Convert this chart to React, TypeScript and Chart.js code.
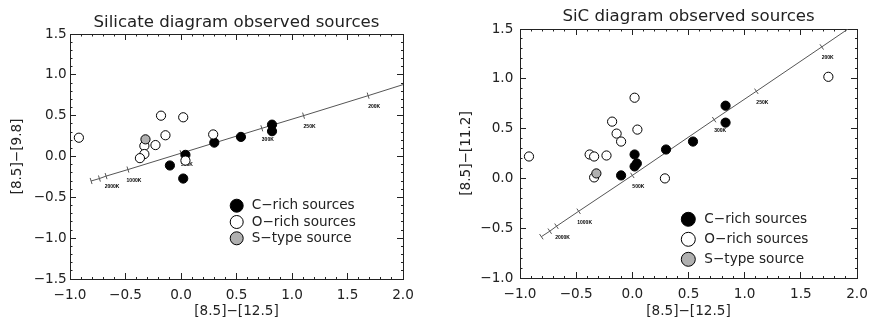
import React, { useEffect, useRef } from 'react';
import { Chart, registerables } from 'chart.js';

Chart.register(...registerables);
Chart.defaults.font.family = '"DejaVu Sans", sans-serif';
Chart.defaults.color = '#222';

// ---------- shared ----------
const xAxisTitle = '[8.5]\u2212[12.5]';
const legendLabels = ['C\u2212rich sources', 'O\u2212rich sources', 'S\u2212type source'];
const legendFills = ['#000000', '#ffffff', '#b0b0b0'];
const tempLabels = ['', '', '2000K', '1000K', '500K', '300K', '250K', '200K', ''];
const xMin = -1.0;
const xMax = 2.0;

// ---------- Silicate panel ----------
const silTitle = 'Silicate diagram observed sources';
const silYTitle = '[8.5]\u2212[9.8]';
const silYMin = -1.5;
const silYMax = 1.5;
const silCRichX = [0.04, -0.10, 0.02, 0.30, 0.54, 0.82, 0.82];
const silCRichY = [0.02, -0.11, -0.27, 0.17, 0.24, 0.39, 0.31];
const silORichX = [-0.92, -0.18, 0.02, -0.14, -0.23, -0.33, -0.33, -0.37, 0.29, 0.04];
const silORichY = [0.23, 0.50, 0.48, 0.26, 0.14, 0.13, 0.03, -0.02, 0.27, -0.05];
const silSTypeX = [-0.32];
const silSTypeY = [0.21];
const silLineX = [-0.81, -0.735, -0.675, -0.478, 0.0, 0.728, 1.104, 1.686, 2.0];
const silLineY = [-0.30, -0.27, -0.24, -0.16, 0.04, 0.345, 0.50, 0.745, 0.88];

// ---------- SiC panel ----------
const sicTitle = 'SiC diagram observed sources';
const sicYTitle = '[8.5]\u2212[11.2]';
const sicYMin = -1.0;
const sicYMax = 1.5;
const sicCRichX = [0.83, 0.83, 0.54, 0.30, 0.02, 0.04, 0.02, -0.10];
const sicCRichY = [0.73, 0.56, 0.37, 0.29, 0.24, 0.15, 0.12, 0.03];
const sicORichX = [0.02, -0.18, -0.14, -0.10, 0.045, -0.92, -0.38, -0.34, -0.23, -0.34, 0.29, 1.745];
const sicORichY = [0.81, 0.57, 0.45, 0.37, 0.49, 0.22, 0.24, 0.22, 0.23, 0.01, 0.0, 1.02];
const sicSTypeX = [-0.32];
const sicSTypeY = [0.05];
const sicLineX = [-0.81, -0.735, -0.675, -0.478, 0.0, 0.728, 1.104, 1.686, 1.92];
const sicLineY = [-0.585, -0.53, -0.48, -0.33, 0.03, 0.59, 0.875, 1.32, 1.50];

const AXIS = '#222';
const TICK_FONT = 13.6;
const TITLE_FONT = 16.6;

type Layout = {
  leftW: number; rightW: number; topH: number; bottomH: number;
  titlePadTop: number; yTitlePad: number; yTickPad: number; xTickPad: number;
  legDx: number; legDy: number; legStep: number; legR: number; legTextGap: number;
};

type Spec = {
  title: string; yTitle: string; yMin: number; yMax: number;
  cx: number[]; cy: number[]; ox: number[]; oy: number[]; sx: number[]; sy: number[];
  lx: number[]; ly: number[]; layout: Layout;
};

const silSpec: Spec = {
  title: silTitle, yTitle: silYTitle, yMin: silYMin, yMax: silYMax,
  cx: silCRichX, cy: silCRichY, ox: silORichX, oy: silORichY, sx: silSTypeX, sy: silSTypeY,
  lx: silLineX, ly: silLineY,
  layout: { leftW: 70, rightW: 32, topH: 34, bottomH: 41, titlePadTop: 12.5, yTitlePad: 9.5, yTickPad: 9.3, xTickPad: 14,
    legDx: 166.7, legDy: 171.7, legStep: 16.3, legR: 6.5, legTextGap: 15 },
};

const sicSpec: Spec = {
  title: sicTitle, yTitle: sicYTitle, yMin: sicYMin, yMax: sicYMax,
  cx: sicCRichX, cy: sicCRichY, ox: sicORichX, oy: sicORichY, sx: sicSTypeX, sy: sicSTypeY,
  lx: sicLineX, ly: sicLineY,
  layout: { leftW: 85, rightW: 13, topH: 29, bottomH: 42, titlePadTop: 6.7, yTitlePad: 23.5, yTickPad: 12.7, xTickPad: 14,
    legDx: 168.3, legDy: 190.3, legStep: 20, legR: 7, legTextGap: 16 },
};

const zip = (xs: number[], ys: number[]) => xs.map((x, i) => ({ x, y: ys[i] }));
const isMajor = (v: number) => Math.abs(v * 2 - Math.round(v * 2)) < 1e-6;
const fmt = (v: number) => {
  if (!isMajor(v)) return '';
  let r = Math.round(v * 2) / 2;
  if (Math.abs(r) < 1e-9) r = 0;
  return r.toFixed(1).replace('-', '\u2212');
};

function gridOpts(startsInside: boolean) {
  return {
    display: true,
    drawOnChartArea: false,
    drawTicks: true,
    tickLength: -6,
    tickColor: AXIS,
    tickWidth: 1,
    tickBorderDash: (ctx: any) =>
      !ctx.tick || isMajor(ctx.tick.value) ? [] : startsInside ? [0, 3.5, 3, 100] : [3, 100],
  };
}

function makeConfig(s: Spec): any {
  const L = s.layout;
  const titleH = TITLE_FONT * 1.2 + L.titlePadTop;
  const n = s.lx.length;

  const tempPlugin = {
    id: 'tempLabels',
    beforeDatasetsDraw(chart: any) {
      const { ctx } = chart;
      const xs = chart.scales.x;
      const ys = chart.scales.y;
      ctx.save();
      ctx.font = 'bold 5px "Liberation Sans", sans-serif';
      ctx.fillStyle = '#000';
      ctx.textAlign = 'center';
      ctx.textBaseline = 'middle';
      tempLabels.forEach((t, i) => {
        if (!t) return;
        ctx.fillText(t, xs.getPixelForValue(s.lx[i]) + 6, ys.getPixelForValue(s.ly[i]) + 11);
      });
      ctx.restore();
    },
  };

  const legendPlugin = {
    id: 'srcLegend',
    afterDatasetsDraw(chart: any) {
      const { ctx, chartArea: a } = chart;
      ctx.save();
      ctx.font = `${TICK_FONT}px "DejaVu Sans", sans-serif`;
      ctx.textBaseline = 'middle';
      ctx.textAlign = 'left';
      legendLabels.forEach((lab, i) => {
        const cx = a.left + L.legDx;
        const cy = a.top + L.legDy + i * L.legStep;
        ctx.beginPath();
        ctx.arc(cx, cy, L.legR, 0, Math.PI * 2);
        ctx.fillStyle = legendFills[i];
        ctx.fill();
        ctx.lineWidth = 1;
        ctx.strokeStyle = '#000';
        ctx.stroke();
        ctx.fillStyle = '#222';
        ctx.fillText(lab, cx + L.legTextGap, cy);
      });
      ctx.restore();
    },
  };

  const rot = (ctx: any) => {
    const xsc = ctx.chart.scales.x;
    const ysc = ctx.chart.scales.y;
    const dx = xsc.getPixelForValue(s.lx[n - 1]) - xsc.getPixelForValue(s.lx[0]);
    const dy = ysc.getPixelForValue(s.ly[n - 1]) - ysc.getPixelForValue(s.ly[0]);
    return (Math.atan2(dy, dx) * 180) / Math.PI + 90;
  };

  const noPadH = (sc: any) => { sc.paddingLeft = 0; sc.paddingRight = 0; };
  const noPadV = (sc: any) => { sc.paddingTop = 0; sc.paddingBottom = 0; };

  return {
    type: 'scatter',
    data: {
      datasets: [
        {
          label: legendLabels[2], data: zip(s.sx, s.sy), order: 0,
          pointRadius: 4.6, pointBackgroundColor: legendFills[2], pointBorderColor: '#000', pointBorderWidth: 1,
        },
        {
          label: legendLabels[1], data: zip(s.ox, s.oy), order: 1,
          pointRadius: 4.6, pointBackgroundColor: legendFills[1], pointBorderColor: '#000', pointBorderWidth: 1,
        },
        {
          label: legendLabels[0], data: zip(s.cx, s.cy), order: 2,
          pointRadius: 4.6, pointBackgroundColor: legendFills[0], pointBorderColor: '#000', pointBorderWidth: 1,
        },
        {
          label: 'blackbody', data: zip(s.lx, s.ly), order: 3, showLine: true,
          borderColor: '#555', borderWidth: 1, pointStyle: 'line',
          pointRadius: (ctx: any) => (ctx.dataIndex < n - 1 ? 3.2 : 0),
          pointRotation: rot,
          pointBorderColor: '#555', pointBorderWidth: 1, pointBackgroundColor: 'rgba(0,0,0,0)',
        },
      ],
    },
    options: {
      responsive: false,
      animation: false,
      devicePixelRatio: 1,
      layout: { padding: 0 },
      events: [],
      plugins: {
        legend: { display: false },
        tooltip: { enabled: false },
        title: {
          display: true, text: s.title, fullSize: false, color: '#222',
          font: { size: TITLE_FONT, weight: 'normal' }, padding: { top: L.titlePadTop, bottom: 0 },
        },
      },
      scales: {
        x: {
          type: 'linear', position: 'bottom', min: xMin, max: xMax,
          ticks: { stepSize: 0.1, autoSkip: false, maxRotation: 0, minRotation: 0, padding: L.xTickPad,
            color: '#222', font: { size: TICK_FONT }, callback: (v: number) => fmt(v) },
          grid: gridOpts(false),
          border: { display: true, color: AXIS, width: 1 },
          title: { display: true, text: xAxisTitle, color: '#222', font: { size: TICK_FONT }, padding: { top: 0, bottom: 0.5 } },
          afterFit: (sc: any) => { sc.height = L.bottomH; noPadH(sc); },
        },
        xTop: {
          type: 'linear', axis: 'x', position: 'top', min: xMin, max: xMax,
          ticks: { stepSize: 0.1, autoSkip: false, display: false },
          grid: gridOpts(true),
          border: { display: true, color: AXIS, width: 1 },
          afterFit: (sc: any) => { sc.height = L.topH - titleH; noPadH(sc); },
        },
        y: {
          type: 'linear', position: 'left', min: s.yMin, max: s.yMax,
          ticks: { stepSize: 0.1, autoSkip: false, padding: L.yTickPad, color: '#222', font: { size: TICK_FONT },
            callback: (v: number) => fmt(v) },
          grid: gridOpts(true),
          border: { display: true, color: AXIS, width: 1 },
          title: { display: true, text: s.yTitle, color: '#222', font: { size: TICK_FONT }, padding: { top: L.yTitlePad, bottom: 0 } },
          afterFit: (sc: any) => { sc.width = L.leftW; noPadV(sc); },
        },
        yRight: {
          type: 'linear', axis: 'y', position: 'right', min: s.yMin, max: s.yMax,
          ticks: { stepSize: 0.1, autoSkip: false, display: false },
          grid: gridOpts(false),
          border: { display: true, color: AXIS, width: 1 },
          afterFit: (sc: any) => { sc.width = L.rightW; noPadV(sc); },
        },
      },
    },
    plugins: [tempPlugin, legendPlugin],
  };
}

function Panel({ spec, left }: { spec: Spec; left: number }) {
  const ref = useRef<HTMLCanvasElement>(null);
  useEffect(() => {
    const chart = new Chart(ref.current as HTMLCanvasElement, makeConfig(spec));
    return () => chart.destroy();
  }, [spec]);
  return (
    <canvas
      ref={ref}
      width={435}
      height={320}
      style={{ position: 'absolute', left, top: 0, width: 435, height: 320 }}
    />
  );
}

export default function App() {
  return (
    <div style={{ position: 'absolute', left: 0, top: 0, width: 870, height: 320, background: '#fff' }}>
      <Panel spec={silSpec} left={0} />
      <Panel spec={sicSpec} left={435} />
    </div>
  );
}
